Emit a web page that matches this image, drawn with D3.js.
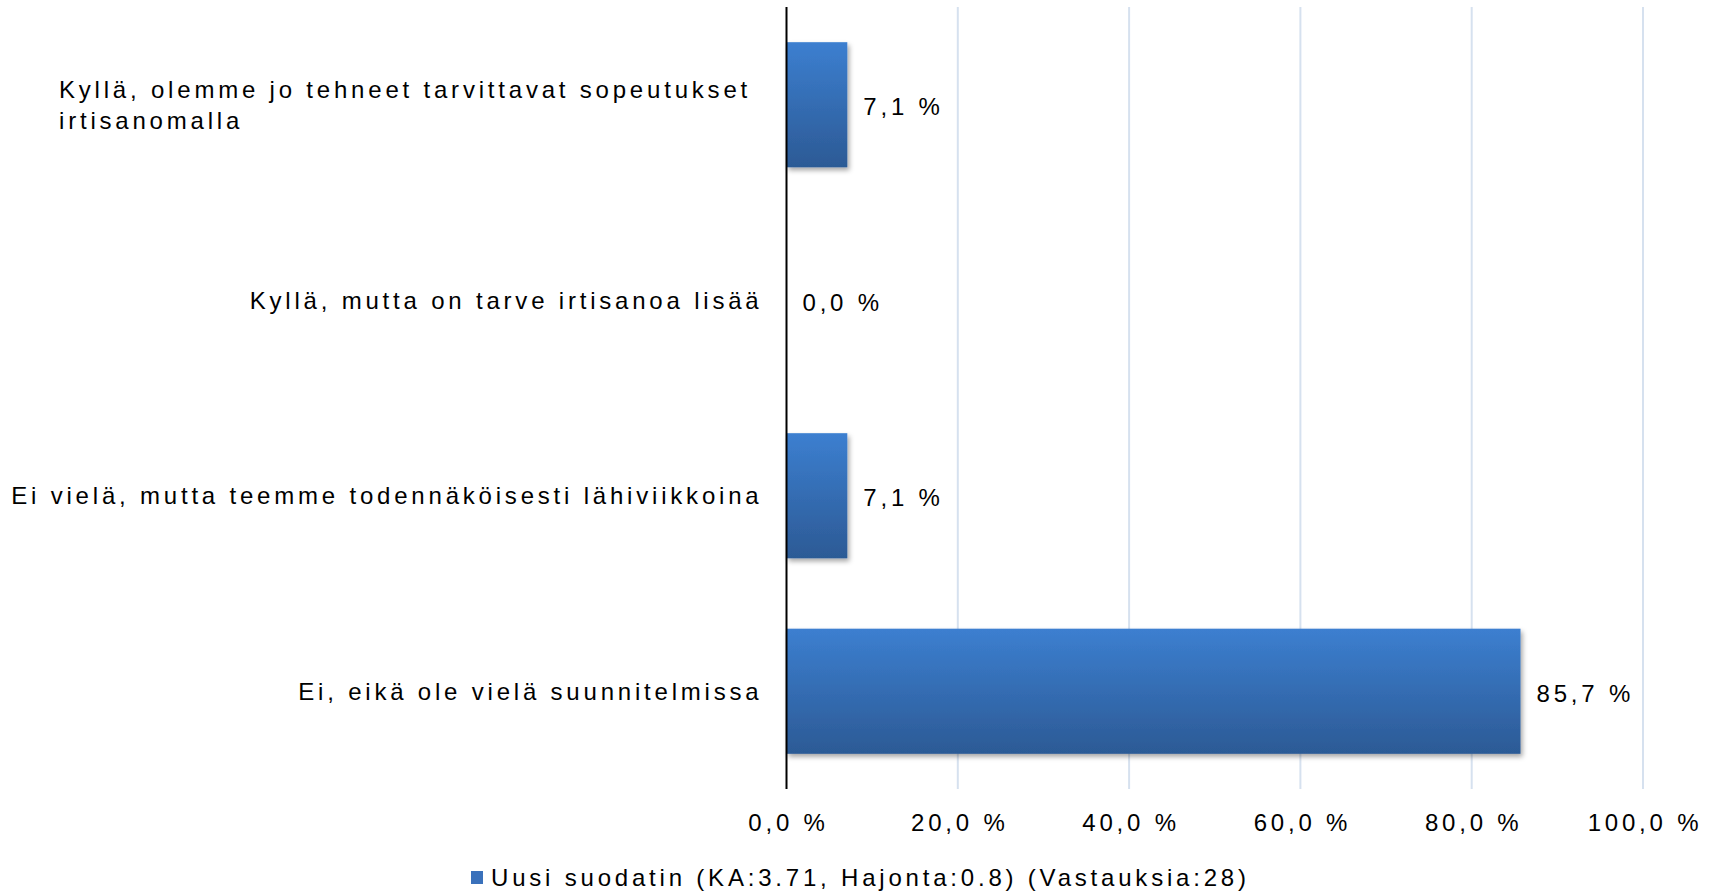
<!DOCTYPE html>
<html>
<head>
<meta charset="utf-8">
<script src="https://cdn.jsdelivr.net/npm/d3@7"></script>
<style>
  body { margin: 0; background: #fff; }
  text { font-family: "Liberation Sans", Arial, sans-serif; fill: #000; font-size: 24px; letter-spacing: 3.8px; }
</style>
</head>
<body>
<div id="chart"></div>
<script>
// categories (top to bottom) and values in %
const categories = [
  "Kyllä, olemme jo tehneet tarvittavat sopeutukset irtisanomalla",
  "Kyllä, mutta on tarve irtisanoa lisää",
  "Ei vielä, mutta teemme todennäköisesti lähiviikkoina",
  "Ei, eikä ole vielä suunnitelmissa"
];
// labels wrapped like the original
const categoryLines = [
  ["Kyllä, olemme jo tehneet tarvittavat sopeutukset", "irtisanomalla"],
  ["Kyllä, mutta on tarve irtisanoa lisää"],
  ["Ei vielä, mutta teemme todennäköisesti lähiviikkoina"],
  ["Ei, eikä ole vielä suunnitelmissa"]
];
const values = [7.1, 0.0, 7.1, 85.7];
const ticks = [0, 20, 40, 60, 80, 100];
const seriesName = "Uusi suodatin (KA:3.71, Hajonta:0.8) (Vastauksia:28)";

const W = 1721, H = 892;
const margin = {top: 7, right: 78, bottom: 103, left: 786.5};
const width = W - margin.left - margin.right,
      height = H - margin.top - margin.bottom;

const fmt = v => v.toFixed(1).replace(".", ",") + " %";

const x = d3.scaleLinear().domain([0, 100]).range([0, width]);
const y = d3.scaleBand().domain(categories).range([0, height]).paddingInner(0.36).paddingOuter(0.18);

const svg = d3.select("#chart").append("svg")
    .attr("width", W)
    .attr("height", H);

const defs = svg.append("defs");
const grad = defs.append("linearGradient")
    .attr("id", "barGrad")
    .attr("x1", 0).attr("y1", 0).attr("x2", 0).attr("y2", 1);
grad.append("stop").attr("offset", "0%").attr("stop-color", "#3c7fd0");
grad.append("stop").attr("offset", "100%").attr("stop-color", "#2c5a95");

const shadow = defs.append("filter").attr("id", "shadow")
    .attr("x", "-10%").attr("y", "-10%").attr("width", "130%").attr("height", "130%");
shadow.append("feDropShadow")
    .attr("dx", 2).attr("dy", 3).attr("stdDeviation", 2.5)
    .attr("flood-color", "#000").attr("flood-opacity", 0.35);

const g = svg.append("g")
    .attr("transform", "translate(" + margin.left + "," + margin.top + ")");

// gridlines
g.selectAll(".grid")
  .data(ticks.filter(t => t > 0))
  .enter().append("line")
    .attr("x1", d => x(d)).attr("x2", d => x(d))
    .attr("y1", 0).attr("y2", height)
    .attr("stroke", "#d6e1ef")
    .attr("stroke-width", 2);

// x tick labels
g.selectAll(".tick-label")
  .data(ticks)
  .enter().append("text")
    .attr("x", d => x(d) + 2)
    .attr("y", height + 34)
    .attr("dy", "0.35em")
    .attr("text-anchor", "middle")
    .text(d => fmt(d));

// bars
g.selectAll(".bar")
  .data(values)
  .enter().append("rect")
    .attr("x", 0)
    .attr("y", (d, i) => y(categories[i]))
    .attr("width", d => x(d))
    .attr("height", y.bandwidth())
    .attr("fill", "url(#barGrad)")
    .attr("filter", "url(#shadow)")
    .style("display", d => d > 0 ? null : "none");

// value labels
g.selectAll(".val")
  .data(values)
  .enter().append("text")
    .attr("x", d => x(d) + 16)
    .attr("y", (d, i) => y(categories[i]) + y.bandwidth() / 2 + 2)
    .attr("dy", "0.35em")
    .text(d => fmt(d));

// axis line
g.append("line")
    .attr("x1", 0).attr("x2", 0)
    .attr("y1", 0).attr("y2", height)
    .attr("stroke", "#000")
    .attr("stroke-width", 2);

// category labels
const lineH = 31;
categoryLines.forEach((lines, i) => {
  const cy = y(categories[i]) + y.bandwidth() / 2;
  const t = g.append("text")
      .attr("text-anchor", lines.length > 1 ? "start" : "end");
  lines.forEach((l, j) => {
    t.append("tspan")
      .attr("x", lines.length > 1 ? 59 - margin.left : -24)
      .attr("y", cy + (j - (lines.length - 1) / 2) * lineH)
      .attr("dy", "0.35em")
      .text(l);
  });
});

// legend
const lg = svg.append("g").attr("transform", "translate(471,878)");
lg.append("rect")
    .attr("x", 0).attr("y", -7)
    .attr("width", 12).attr("height", 13)
    .attr("fill", "#3a71bb");
lg.append("text")
    .attr("x", 20).attr("y", 0)
    .attr("dy", "0.35em")
    .text(seriesName);
</script>
</body>
</html>
